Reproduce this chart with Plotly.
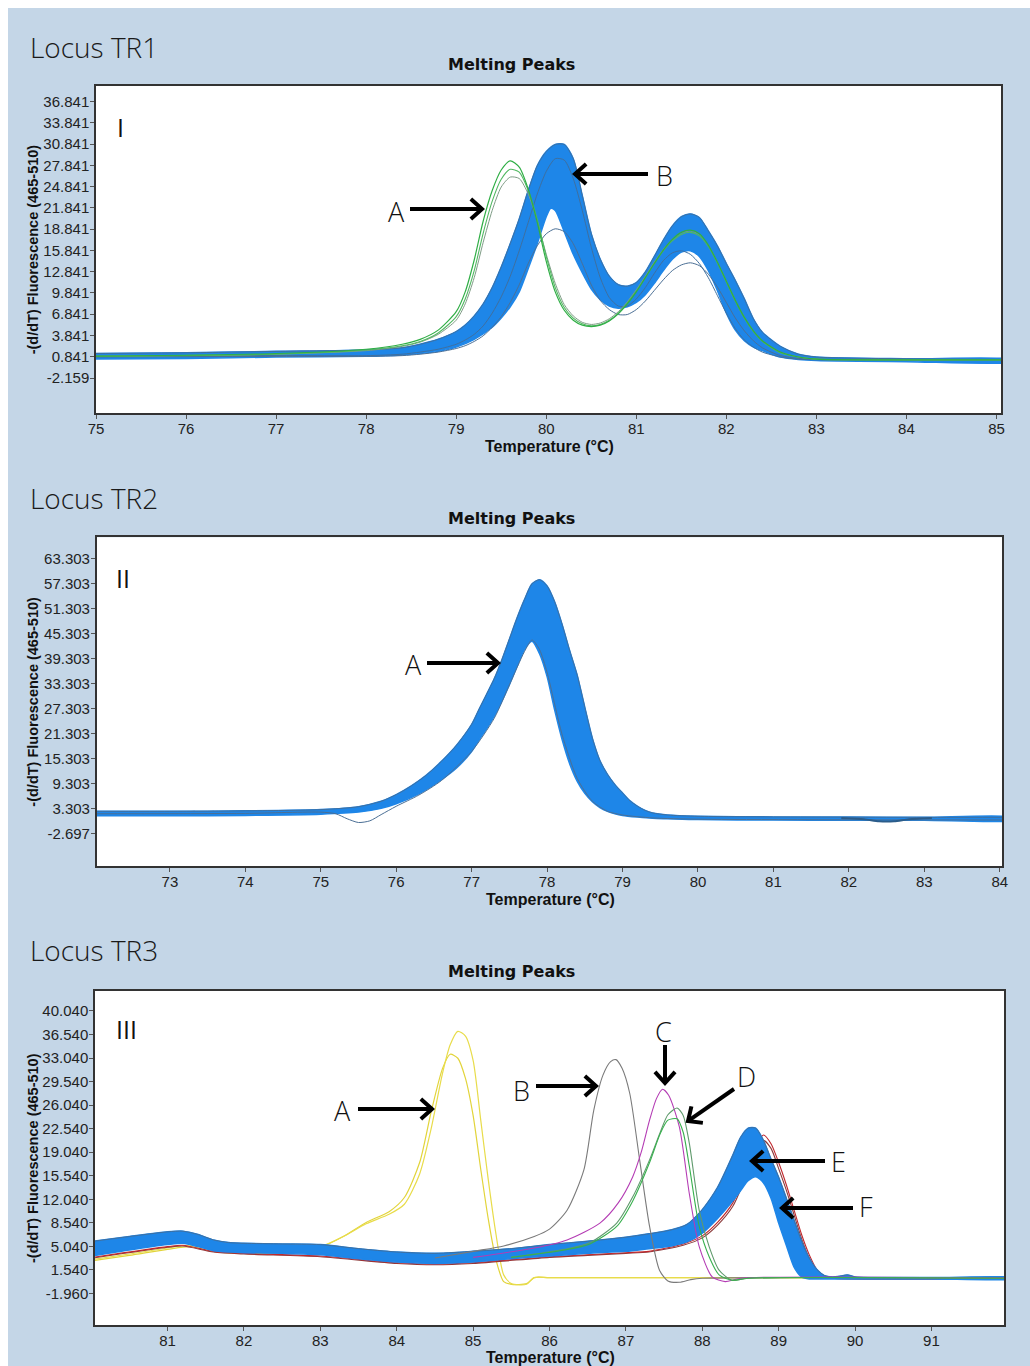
import math
import plotly.graph_objects as go

W, H = 1030, 1366
BG = "#c4d6e7"
BAND = "#1e86e8"
OUTLINE = "#3f6f9f"

# ---------------- Locus TR1 ----------------
TR1_XTICKS = [75, 76, 77, 78, 79, 80, 81, 82, 83, 84, 85]
TR1_YTICKS = [36.841, 33.841, 30.841, 27.841, 24.841, 21.841, 18.841, 15.841, 12.841, 9.841, 6.841, 3.841, 0.841, -2.159]
TR1_XRANGE = [75.0, 85.05]
TR1_YRANGE = [-7.1, 39.1]

TR1_UP_X = [74.9, 76.0, 77.0, 78.0, 78.4, 78.6, 78.8, 79.0, 79.1, 79.2, 79.3, 79.4, 79.5, 79.6, 79.7, 79.8, 79.9,
            80.0, 80.1, 80.2, 80.3, 80.4, 80.5, 80.6, 80.7, 80.8, 80.9, 81.0, 81.1, 81.2, 81.3, 81.4, 81.5, 81.6,
            81.7, 81.8, 81.9, 82.0, 82.1, 82.2, 82.3, 82.4, 82.6, 82.8, 83.0, 84.0, 85.2]
TR1_UP_Y = [1.3, 1.4, 1.6, 1.8, 2.1, 2.6, 3.3, 4.4, 5.3, 6.6, 8.3, 10.6, 13.5, 16.8, 20.3, 24.3, 27.8,
            29.8, 30.8, 30.8, 28.8, 23.6, 18.2, 14.6, 12.2, 11.0, 10.8, 11.3, 12.8, 15.0, 17.3, 19.3, 20.6, 21.0,
            20.5, 18.6, 16.5, 14.0, 11.6, 9.0, 6.2, 4.3, 2.3, 1.2, 0.8, 0.55, 0.45]
TR1_LO_X = [74.9, 76.0, 77.0, 78.0, 78.4, 78.6, 78.8, 79.0, 79.2, 79.4, 79.5, 79.6, 79.7, 79.8, 79.9,
            80.0, 80.05, 80.1, 80.2, 80.3, 80.4, 80.5, 80.6, 80.7, 80.8, 80.9, 81.0, 81.1, 81.2, 81.3, 81.4,
            81.5, 81.6, 81.7, 81.8, 81.9, 82.0, 82.1, 82.2, 82.3, 82.4, 82.6, 82.8, 83.0, 84.0, 85.2]
TR1_LO_Y = [0.5, 0.6, 0.8, 0.9, 1.1, 1.3, 1.6, 2.2, 3.3, 5.0, 6.3, 7.9, 10.0, 13.3, 16.8,
            20.6, 21.8, 21.5, 18.5, 15.3, 12.7, 10.4, 8.9, 8.0, 7.7, 7.9, 8.5, 9.6, 11.2, 13.0, 14.6,
            15.6, 15.8, 15.0, 13.0, 10.2, 7.0, 4.6, 3.1, 2.2, 1.7, 0.8, 0.45, 0.3, 0.15, 0.1]
TR1_CURVE_X = [74.9, 77.0, 78.0, 78.4, 78.6, 78.8, 79.0, 79.1, 79.2, 79.3, 79.4, 79.5, 79.6, 79.7, 79.8, 79.9,
               80.0, 80.1, 80.2, 80.3, 80.4, 80.5, 80.6, 80.7, 80.8, 80.9, 81.0, 81.1, 81.2, 81.3, 81.4, 81.5,
               81.6, 81.7, 81.8, 81.9, 82.0, 82.1, 82.2, 82.3, 82.4, 82.6, 82.8, 83.0, 84.0, 85.2]
TR1_LOW1_Y = [0.8, 0.9, 0.9, 1.0, 1.2, 1.5, 2.0, 2.4, 3.0, 3.8, 5.0, 6.5, 8.5, 11.0, 14.0, 16.5,
              18.2, 18.9, 18.5, 16.8, 14.0, 11.0, 8.8, 7.5, 6.8, 6.8, 7.5, 8.7, 10.2, 11.7, 13.0, 13.8,
              14.1, 13.7, 12.5, 10.7, 8.5, 6.3, 4.5, 3.1, 2.1, 1.0, 0.6, 0.5, 0.4, 0.4]
TR1_LOW2_Y = [0.9, 1.0, 1.0, 1.2, 1.5, 1.9, 2.6, 3.2, 4.0, 5.2, 7.0, 9.3, 12.2, 15.8, 19.8, 23.8,
              27.0, 28.8, 28.6, 26.0, 21.5, 16.3, 12.0, 9.2, 8.0, 8.0, 9.0, 10.6, 12.6, 14.4, 15.5, 15.8,
              15.3, 14.0, 12.0, 9.5, 7.0, 4.8, 3.2, 2.2, 1.5, 0.8, 0.5, 0.4, 0.4, 0.4]
TR1_GREEN1_Y = [0.9, 1.3, 1.9, 2.6, 3.3, 4.6, 7.2, 10.0, 14.5, 20.0, 24.3, 27.2, 28.5, 27.6, 24.5, 19.8,
                14.3, 10.0, 7.4, 6.0, 5.3, 5.1, 5.3, 5.9, 6.9, 8.3, 10.0, 12.0, 14.0, 15.9, 17.4, 18.4,
                18.7, 18.2, 16.6, 14.2, 11.5, 8.8, 6.4, 4.5, 3.1, 1.5, 0.8, 0.5, 0.4, 0.4]
TR1_GREEN2_Y = [0.9, 1.2, 1.8, 2.4, 3.0, 4.2, 6.5, 9.0, 13.0, 18.3, 22.8, 25.9, 27.3, 26.9, 24.3, 20.2,
                15.0, 10.6, 7.8, 6.3, 5.5, 5.2, 5.4, 6.0, 7.0, 8.4, 10.1, 12.0, 14.0, 15.8, 17.2, 18.1,
                18.4, 17.9, 16.4, 14.1, 11.4, 8.7, 6.3, 4.4, 3.0, 1.4, 0.8, 0.5, 0.4, 0.4]
TR1_GREEN3_Y = [0.9, 1.2, 1.7, 2.3, 2.9, 4.0, 6.0, 8.3, 12.0, 17.0, 21.5, 24.8, 26.2, 26.0, 23.8, 20.0,
                15.3, 11.2, 8.2, 6.6, 5.7, 5.4, 5.6, 6.2, 7.2, 8.6, 10.3, 12.2, 14.2, 16.0, 17.4, 18.3,
                18.6, 18.1, 16.6, 14.2, 11.5, 8.8, 6.4, 4.5, 3.1, 1.5, 0.8, 0.5, 0.4, 0.4]

# ---------------- Locus TR2 ----------------
TR2_XTICKS = [73, 74, 75, 76, 77, 78, 79, 80, 81, 82, 83, 84]
TR2_YTICKS = [63.303, 57.303, 51.303, 45.303, 39.303, 33.303, 27.303, 21.303, 15.303, 9.303, 3.303, -2.697]
TR2_XRANGE = [72.03, 84.03]
TR2_YRANGE = [-10.56, 68.5]

TR2_UP_X = [71.9, 73.0, 74.0, 75.0, 75.5, 75.8, 76.0, 76.2, 76.4, 76.6, 76.8, 77.0, 77.1, 77.2, 77.3, 77.4,
            77.5, 77.6, 77.7, 77.8, 77.9, 78.0, 78.1, 78.2, 78.3, 78.4, 78.5, 78.6, 78.7, 78.8, 78.9, 79.0,
            79.1, 79.2, 79.3, 79.4, 79.6, 80.0, 81.0, 82.0, 83.0, 84.2]
TR2_UP_Y = [2.6, 2.6, 2.7, 3.0, 3.7, 5.0, 6.6, 8.7, 11.3, 14.6, 18.5, 23.5, 27.2, 30.8, 34.5, 39.0,
            44.0, 49.0, 53.5, 57.3, 58.3, 56.8, 53.0, 47.5, 41.2, 35.3, 27.6, 20.2, 14.8, 11.5, 9.0, 7.0,
            5.1, 3.8, 2.8, 2.2, 1.7, 1.4, 1.25, 1.2, 1.15, 1.15]
TR2_LO_X = [71.9, 73.0, 74.0, 75.0, 75.5, 75.8, 76.0, 76.3, 76.6, 76.8, 77.0, 77.1, 77.2, 77.3, 77.4, 77.5,
            77.6, 77.7, 77.8, 77.9, 78.0, 78.1, 78.2, 78.3, 78.4, 78.5, 78.6, 78.7, 78.8, 78.9, 79.0, 79.2,
            79.4, 79.6, 80.0, 81.0, 82.0, 83.0, 84.2]
TR2_LO_Y = [1.5, 1.5, 1.6, 1.9, 2.4, 3.3, 4.4, 6.8, 10.2, 13.0, 17.0, 19.8, 22.5, 25.5, 29.0, 33.0,
            37.3, 41.5, 43.5, 40.5, 35.0, 27.0, 19.8, 14.0, 9.8, 6.9, 4.9, 3.5, 2.6, 2.0, 1.6, 1.2,
            0.9, 0.8, 0.6, 0.5, 0.45, 0.45, 0.45]
TR2_DIP_X = [71.9, 74.0, 75.0, 75.2, 75.35, 75.5, 75.65, 75.8, 76.0, 76.3, 76.6, 77.0, 77.3, 77.5, 77.7,
             77.8, 77.9, 78.0, 78.2, 78.4, 78.6, 78.8, 79.0, 79.4, 80.0, 84.2]
TR2_DIP_Y = [2.0, 2.1, 2.4, 2.0, 0.8, -0.1, 0.3, 1.8, 3.8, 6.5, 10.0, 17.0, 25.0, 33.0, 41.0,
             43.8, 41.5, 36.0, 21.0, 10.5, 5.0, 2.6, 1.7, 1.0, 0.7, 0.5]
TR2_DASH_X = [81.9, 82.2, 82.4, 82.6, 82.8, 83.1]
TR2_DASH_Y = [1.0, 0.7, 0.2, 0.2, 0.7, 1.0]

# ---------------- Locus TR3 ----------------
TR3_XTICKS = [81, 82, 83, 84, 85, 86, 87, 88, 89, 90, 91]
TR3_YTICKS = [40.040, 36.540, 33.040, 29.540, 26.040, 22.540, 19.040, 15.540, 12.040, 8.540, 5.040, 1.540, -1.960]
TR3_XRANGE = [80.05, 91.95]
TR3_YRANGE = [-6.65, 43.0]

TR3_UP_X = [79.9, 80.5, 81.0, 81.2, 81.4, 81.6, 81.8, 82.0, 82.5, 83.0, 83.5, 84.0, 84.5, 85.0, 85.5, 86.0,
            86.5, 87.0, 87.3, 87.6, 87.8, 88.0, 88.2, 88.4, 88.5, 88.6, 88.7, 88.8, 88.9, 89.0, 89.1, 89.2,
            89.3, 89.4, 89.5, 89.6, 89.7, 89.8, 89.9, 90.0, 91.0, 92.1]
TR3_UP_Y = [5.6, 6.5, 7.2, 7.3, 6.8, 6.0, 5.6, 5.5, 5.4, 5.3, 4.7, 4.2, 4.0, 4.3, 4.7, 5.3,
            5.8, 6.4, 6.9, 7.5, 8.3, 10.5, 13.8, 18.6, 21.2, 22.6, 22.6, 20.8, 18.0, 15.3, 12.2, 9.0,
            5.8, 3.3, 1.6, 0.7, 0.5, 0.6, 0.8, 0.5, 0.4, 0.4]
TR3_LO_X = [79.9, 80.5, 81.0, 81.2, 81.4, 81.6, 81.8, 82.0, 82.5, 83.0, 83.5, 84.0, 84.5, 85.0, 85.5, 86.0,
            86.5, 87.0, 87.3, 87.6, 87.8, 88.0, 88.2, 88.4, 88.5, 88.6, 88.7, 88.8, 88.9, 89.0, 89.1, 89.2,
            89.3, 89.4, 89.6, 89.8, 90.0, 91.0, 92.1]
TR3_LO_Y = [3.4, 4.5, 5.3, 5.5, 5.0, 4.4, 4.2, 4.1, 4.0, 3.8, 3.2, 2.7, 2.5, 2.7, 3.2, 3.6,
            4.0, 4.3, 4.7, 5.1, 5.7, 7.0, 9.2, 11.8, 13.3, 14.8, 15.4, 14.5, 12.2, 8.5, 5.2, 2.0,
            0.5, 0.2, 0.2, 0.2, 0.2, 0.2, 0.2]
TR3_A_X = [79.9, 80.5, 81.0, 81.3, 81.6, 82.0, 82.5, 83.0, 83.3, 83.6, 83.9, 84.1, 84.3, 84.45, 84.6, 84.7,
           84.8, 84.9, 85.0, 85.1, 85.2, 85.3, 85.4, 85.5, 85.7, 85.8, 86.0, 88.0, 90.0, 92.1]
TR3_A1_Y = [2.9, 3.9, 4.8, 5.2, 4.5, 4.1, 4.1, 5.0, 6.5, 8.4, 9.8, 11.3, 15.8, 22.5, 30.8, 35.0,
            37.0, 36.3, 32.7, 23.8, 14.8, 6.8, 0.8, -0.5, -0.6, 0.4, 0.4, 0.4, 0.35, 0.3]
TR3_A2_Y = [2.7, 3.7, 4.6, 5.0, 4.3, 4.0, 4.0, 4.9, 6.5, 8.6, 10.2, 12.3, 17.5, 25.0, 31.5, 33.6,
            33.0, 30.0, 24.5, 16.5, 9.0, 3.0, -0.2, -0.6, -0.5, 0.4, 0.4, 0.4, 0.35, 0.3]
TR3_B_X = [84.5, 85.0, 85.4, 85.8, 86.0, 86.23, 86.45, 86.58, 86.7, 86.8, 86.87, 86.95, 87.05, 87.18, 87.31,
           87.44, 87.55, 87.7, 87.85, 88.0, 92.1]
TR3_B_Y = [3.3, 4.3, 5.1, 6.5, 7.6, 10.4, 16.4, 25.3, 30.5, 32.5, 32.8, 31.5, 27.8, 17.9, 8.0,
           1.5, -0.1, -0.3, 0.1, 0.3, 0.3]
TR3_C_X = [85.0, 85.8, 86.23, 86.66, 86.9, 87.09, 87.2, 87.31, 87.4, 87.48, 87.56, 87.7, 87.83, 87.96, 88.13,
           88.3, 88.5, 92.1]
TR3_C_Y = [3.4, 4.8, 6.0, 8.5, 11.5, 15.4, 19.0, 23.8, 27.0, 28.4, 27.5, 22.8, 12.9, 5.0, 0.5,
           -0.2, 0.3, 0.3]
TR3_D_X = [85.5, 86.2, 86.53, 86.88, 87.09, 87.31, 87.45, 87.55, 87.67, 87.75, 87.83, 87.96, 88.09, 88.22,
           88.39, 88.6, 92.1]
TR3_D1_Y = [3.4, 4.6, 5.6, 8.5, 12.4, 17.9, 22.0, 24.6, 25.6, 24.5, 20.4, 10.4, 5.0, 1.5, 0.0, 0.3, 0.3]
TR3_D2_Y = [3.4, 4.5, 5.4, 8.0, 11.8, 17.5, 21.8, 23.8, 24.0, 22.0, 17.0, 8.0, 3.5, 0.8, 0.0, 0.3, 0.3]
TR3_F_X = [79.9, 81.0, 81.2, 81.6, 82.0, 83.0, 84.0, 84.5, 85.0, 86.0, 86.5, 87.0, 87.3, 87.75, 88.0, 88.2,
           88.4, 88.55, 88.7, 88.8, 88.9, 89.0, 89.1, 89.2, 89.3, 89.4, 89.5, 89.6, 89.7, 92.1]
TR3_F1_Y = [3.2, 5.0, 5.2, 4.3, 4.0, 3.6, 2.6, 2.4, 2.6, 3.5, 3.8, 4.1, 4.3, 5.4, 6.6, 8.6,
            11.5, 15.5, 19.8, 21.6, 20.3, 17.5, 14.2, 10.5, 6.8, 3.8, 1.6, 0.6, 0.3, 0.3]
TR3_F2_Y = [3.1, 4.9, 5.1, 4.2, 3.9, 3.5, 2.5, 2.3, 2.5, 3.4, 3.7, 4.0, 4.2, 5.2, 6.3, 8.2,
            11.0, 14.8, 19.0, 20.8, 19.6, 16.6, 13.4, 9.8, 6.2, 3.3, 1.3, 0.5, 0.3, 0.3]

# ---------------- geometry (pixels of the 1030x1366 page) ----------------
PLOTS = [  # left, right, top, bottom
    (96, 1001, 85.7, 413),
    (96.7, 1002, 537.3, 866),
    (95, 1004, 991, 1325),
]


def px(x):
    return x / W


def py(y):
    return 1 - y / H


fig = go.Figure()


def axn(i):
    return ("x", "y") if i == 1 else (f"x{i}", f"y{i}")


def band(i, xu, yu, xl, yl):
    xa, ya = axn(i)
    fig.add_trace(go.Scatter(x=list(xu) + list(xl)[::-1], y=list(yu) + list(yl)[::-1], mode="lines",
                             fill="toself", fillcolor=BAND,
                             line=dict(color=BAND, width=1.5, shape="spline", smoothing=0.7),
                             xaxis=xa, yaxis=ya, hoverinfo="skip", showlegend=False))


def curve(i, x, y, color, width=1.1):
    xa, ya = axn(i)
    fig.add_trace(go.Scatter(x=x, y=y, mode="lines",
                             line=dict(color=color, width=width, shape="spline", smoothing=0.7),
                             xaxis=xa, yaxis=ya, hoverinfo="skip", showlegend=False))


# Panel I
band(1, TR1_UP_X, TR1_UP_Y, TR1_LO_X, TR1_LO_Y)
curve(1, TR1_UP_X, TR1_UP_Y, OUTLINE, 1)
curve(1, TR1_CURVE_X, TR1_LOW2_Y, OUTLINE, 1)
curve(1, TR1_CURVE_X, TR1_LOW1_Y, "#4b6f95", 1)
curve(1, TR1_CURVE_X, TR1_GREEN3_Y, "#7f9c86", 1)
curve(1, TR1_CURVE_X, TR1_GREEN2_Y, "#52b862", 1.1)
curve(1, TR1_CURVE_X, TR1_GREEN1_Y, "#2fae45", 1.2)

# Panel II
band(2, TR2_UP_X, TR2_UP_Y, TR2_LO_X, TR2_LO_Y)
curve(2, TR2_UP_X, TR2_UP_Y, OUTLINE, 1)
curve(2, TR2_DIP_X, TR2_DIP_Y, "#4b6f95", 1)
curve(2, TR2_DASH_X, TR2_DASH_Y, "#2b5c8a", 2)

# Panel III
curve(3, TR3_A_X, TR3_A2_Y, "#e2d43a", 1.2)
curve(3, TR3_A_X, TR3_A1_Y, "#e8dc4a", 1.2)
curve(3, TR3_F_X, TR3_F2_Y, "#8b3a3a", 1.1)
curve(3, TR3_F_X, TR3_F1_Y, "#c0282d", 1.1)
band(3, TR3_UP_X, TR3_UP_Y, TR3_LO_X, TR3_LO_Y)
curve(3, TR3_UP_X, TR3_UP_Y, OUTLINE, 1)
curve(3, TR3_B_X, TR3_B_Y, "#7a7a7a", 1.1)
curve(3, TR3_C_X, TR3_C_Y, "#b43cb4", 1.1)
curve(3, TR3_D_X, TR3_D1_Y, "#5f9a6c", 1.1)
curve(3, TR3_D_X, TR3_D2_Y, "#38b04e", 1.1)

tickfont = dict(family="Liberation Sans, Arial, sans-serif", size=15, color="#222")
common = dict(ticks="outside", tickwidth=1, tickcolor="#555", showline=True, linecolor="#333",
              linewidth=1.5, mirror=True, showgrid=False, zeroline=False, tickfont=tickfont, fixedrange=True,
              automargin=False, ticklen=4)

settings = [
    (TR1_XRANGE, TR1_YRANGE, TR1_XTICKS, TR1_YTICKS),
    (TR2_XRANGE, TR2_YRANGE, TR2_XTICKS, TR2_YTICKS),
    (TR3_XRANGE, TR3_YRANGE, TR3_XTICKS, TR3_YTICKS),
]
layout_axes = {}
for i, ((l, r, t, b), (xr, yr, xt, yt)) in enumerate(zip(PLOTS, settings), start=1):
    xk = "xaxis" if i == 1 else f"xaxis{i}"
    yk = "yaxis" if i == 1 else f"yaxis{i}"
    xa, ya = axn(i)
    layout_axes[xk] = dict(domain=[px(l), px(r)], range=xr, tickmode="array", tickvals=xt,
                           ticktext=[str(v) for v in xt], anchor=ya, ticklabelstandoff=-3, **common)
    layout_axes[yk] = dict(domain=[py(b), py(t)], range=yr, tickmode="array", tickvals=yt,
                           ticktext=[f"{v:.3f}" for v in yt], anchor=xa, ticklabelstandoff=-2, **common)

shapes = [dict(type="rect", xref="paper", yref="paper", x0=px(8), x1=1.0, y0=0.0, y1=py(8),
               fillcolor=BG, line=dict(width=0), layer="below")]
for (l, r, t, b) in PLOTS:
    shapes.append(dict(type="rect", xref="paper", yref="paper", x0=px(l), x1=px(r), y0=py(b), y1=py(t),
                       fillcolor="white", line=dict(width=0), layer="below"))


def arrow(x0, y0, x1, y1, head=15, ang=42):
    dx, dy = x1 - x0, y1 - y0
    L = math.hypot(dx, dy)
    ux, uy = -dx / L, -dy / L
    pts = []
    for s in (1, -1):
        a = math.radians(ang * s)
        rx = ux * math.cos(a) - uy * math.sin(a)
        ry = ux * math.sin(a) + uy * math.cos(a)
        pts.append((x1 + head * rx, y1 + head * ry))
    res = [dict(type="line", xref="paper", yref="paper", x0=px(x0), y0=py(y0), x1=px(x1 - 2 * (-ux)),
                y1=py(y1 - 2 * (-uy)), line=dict(color="black", width=4), layer="above")]
    path = "M {:.5f} {:.5f} L {:.5f} {:.5f} L {:.5f} {:.5f}".format(
        px(pts[0][0]), py(pts[0][1]), px(x1), py(y1), px(pts[1][0]), py(pts[1][1]))
    res.append(dict(type="path", xref="paper", yref="paper", path=path,
                    line=dict(color="black", width=4), layer="above"))
    return res


ARROWS = [
    ("A", 396, 211, 410, 209, 482, 209),
    ("B", 664, 175, 648, 174, 575, 174),
    ("A", 413, 664, 427, 663, 498, 663),
    ("A", 342, 1110, 358, 1109, 432, 1109),
    ("B", 521, 1090, 536, 1086, 596, 1086),
    ("C", 663, 1031, 665, 1045, 665, 1083),
    ("D", 746, 1076, 734, 1089, 688, 1121),
    ("E", 838, 1161, 825, 1161, 752, 1161),
    ("F", 866, 1206, 853, 1208, 782, 1208),
]

annotations = []
for lab, lx, ly, x0, y0, x1, y1 in ARROWS:
    shapes += arrow(x0, y0, x1, y1)
    annotations.append(dict(text=lab, xref="paper", yref="paper", x=px(lx), y=py(ly), xanchor="center",
                            yanchor="middle", showarrow=False,
                            font=dict(family="Open Sans, Noto Sans, sans-serif", size=27, color="#111", weight=300)))

LOCUS = [("Locus TR1", 47), ("Locus TR2", 498), ("Locus TR3", 950)]
for txt, yy in LOCUS:
    annotations.append(dict(text=txt, xref="paper", yref="paper", x=px(28), y=py(yy), xanchor="left",
                            yanchor="middle", showarrow=False,
                            font=dict(family="Open Sans, Noto Sans, sans-serif", size=28, color="#1a1a1a", weight=300)))

for yy in (65, 518, 971):
    annotations.append(dict(text="<b>Melting Peaks</b>", xref="paper", yref="paper", x=px(511), y=py(yy),
                            xanchor="center", yanchor="middle", showarrow=False,
                            font=dict(family="DejaVu Sans, sans-serif", size=16, color="#111")))

for (l, r, t, b), yy in zip(PLOTS, (446, 899, 1357)):
    annotations.append(dict(text="<b>Temperature (°C)</b>", xref="paper", yref="paper", x=px((l + r) / 2 + 1),
                            y=py(yy), xanchor="center", yanchor="middle", showarrow=False,
                            font=dict(family="Liberation Sans, Arial, sans-serif", size=16, color="#111")))
    annotations.append(dict(text="<b>-(d/dT) Fluorescence (465-510)</b>", xref="paper", yref="paper",
                            x=px(33), y=py((t + b) / 2), xanchor="center", yanchor="middle", textangle=-90,
                            showarrow=False,
                            font=dict(family="Liberation Sans, Arial, sans-serif", size=14.5, color="#111")))

for txt, xx, yy in (("I", 120, 127), ("II", 123, 578), ("III", 126, 1029)):
    annotations.append(dict(text=txt, xref="paper", yref="paper", x=px(xx), y=py(yy), xanchor="center",
                            yanchor="middle", showarrow=False,
                            font=dict(family="Open Sans, Noto Sans, sans-serif", size=25, color="#111")))

fig.update_layout(width=W, height=H, autosize=False, margin=dict(l=0, r=0, t=0, b=0, pad=0, autoexpand=False),
                  paper_bgcolor="white", plot_bgcolor="white", showlegend=False,
                  shapes=shapes, annotations=annotations, **layout_axes)

fig.write_html("out.html", config={"responsive": False, "displayModeBar": False},
               post_script="document.body.style.margin='0';document.body.style.padding='0';"
                           "document.documentElement.style.overflow='hidden';document.body.style.overflow='hidden';")
